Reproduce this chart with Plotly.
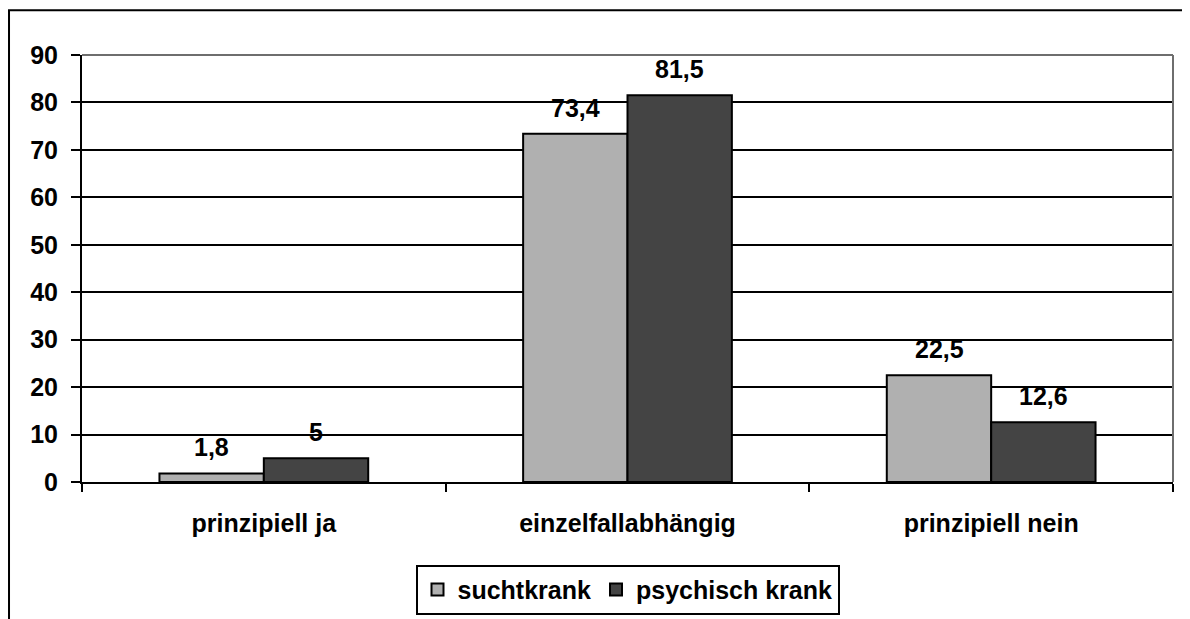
import plotly.graph_objects as go

# --- Daten ------------------------------------------------------------
categories = ["prinzipiell ja", "einzelfallabhängig", "prinzipiell nein"]
sucht = [1.8, 73.4, 22.5]
psych = [5, 81.5, 12.6]
y_ticks = [0, 10, 20, 30, 40, 50, 60, 70, 80, 90]

LIGHT = "#b0b0b0"
DARK = "#444444"
FAMILY = "Liberation Sans, Arial, sans-serif"
FONT = dict(family=FAMILY, size=25, color="#000000", weight="bold")


def fmt(v):
    return f"{v:g}".replace(".", ",")


fig = go.Figure()
for name, vals, color in [("suchtkrank", sucht, LIGHT), ("psychisch krank", psych, DARK)]:
    fig.add_trace(
        go.Bar(
            x=categories, y=vals, name=name,
            marker=dict(color=color, line=dict(color="#000000", width=2)),
        )
    )

# Werte-Beschriftungen über den Balken
for vals, shift in [(sucht, -52), (psych, 52)]:
    for i, v in enumerate(vals):
        fig.add_annotation(
            x=categories[i], y=v, xref="x", yref="y", text=fmt(v), showarrow=False,
            xshift=shift, yshift=10, yanchor="bottom",
            font=FONT,
        )

# graue Linien oben/rechts der Zeichenfläche
fig.add_shape(type="line", xref="x domain", yref="y domain", x0=0, x1=1, y0=1, y1=1,
              line=dict(color="#6e6e6e", width=2), layer="above")
fig.add_shape(type="line", xref="x domain", yref="y domain", x0=1, x1=1, y0=0, y1=1,
              line=dict(color="#6e6e6e", width=2), layer="above")
# äußerer Rahmen
fig.add_shape(
    type="rect", xref="paper", yref="paper", x0=-0.0669, x1=1.03, y0=-0.35, y1=1.105,
    line=dict(color="#000000", width=2),
)

# (die Seite hat 8 px Rand, daher l/t kleiner)
fig.update_layout(
    width=1190, height=619,
    margin=dict(l=74, r=25, t=47, b=145, autoexpand=False),
    paper_bgcolor="white", plot_bgcolor="white",
    font=FONT,
    barmode="group", bargap=0.426, bargroupgap=0,
    showlegend=True,
    legend=dict(
        orientation="h", x=0.5, xanchor="center", y=-0.194, yanchor="top",
        bordercolor="#000000", borderwidth=2, bgcolor="white",
        font=FONT, itemwidth=30, traceorder="normal",
    ),
)
fig.update_xaxes(
    showline=True, linecolor="#000000", linewidth=2,
    ticks="outside", tickson="boundaries", ticklen=8, tickwidth=2, tickcolor="#000000",
    ticklabelstandoff=18, tickfont=FONT,
)
fig.update_yaxes(
    range=[0, 90], tickvals=y_ticks,
    showgrid=True, gridcolor="#000000", gridwidth=2, zeroline=False,
    showline=True, linecolor="#000000", linewidth=2,
    ticks="outside", ticklen=9, tickwidth=2, tickcolor="#000000",
    ticklabelstandoff=8, tickfont=FONT,
)

fig.write_html("out.html")
